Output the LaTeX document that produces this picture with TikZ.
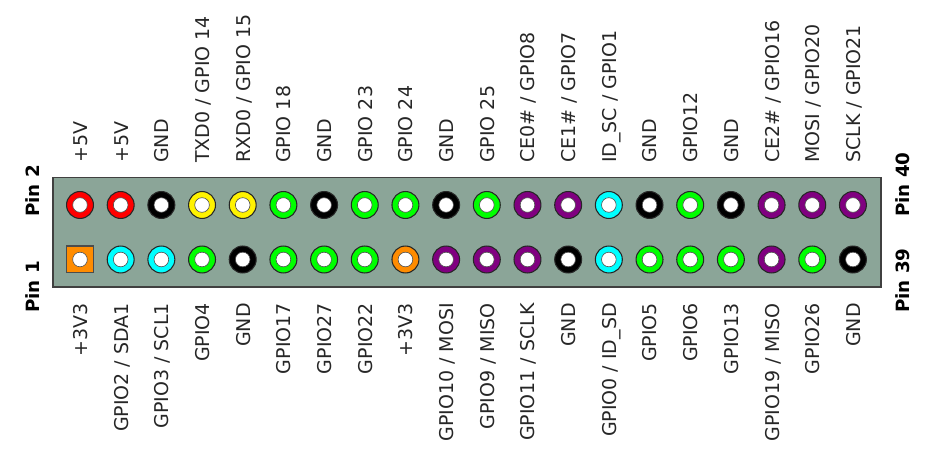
\documentclass[tikz,border=0pt]{standalone}
\usepackage{fontspec}
\setmainfont{DejaVu Sans}
\definecolor{boardgreen}{RGB}{139, 165, 152}
\definecolor{pinpurple}{RGB}{128, 0, 128}
\definecolor{pinorange}{RGB}{255, 140, 0}
\definecolor{pincyan}{RGB}{0, 255, 255}
\tikzset{
  pinring/.style={circle, draw=black!85, line width=0.9pt, minimum size=23pt, inner sep=0pt},
  pinsquare/.style={rectangle, draw=black!70, line width=0.9pt, minimum size=23pt, inner sep=0pt},
  pinhole/.style={circle, draw=black!70, fill=white, line width=0.5pt, minimum size=12.5pt, inner sep=0pt},
  pinlabel/.style={font=\fontsize{16.2pt}{18pt}\selectfont, text=black!85, rotate=90, text height=11.5pt, text depth=0pt, inner sep=0pt},
  endlabel/.style={font=\fontsize{15.6pt}{18pt}\selectfont\bfseries, rotate=90, anchor=west, text height=11pt, text depth=0pt, inner sep=0pt}
}
\begin{document}
\begin{tikzpicture}[x=0.03cm, y=-0.03cm]
  \useasboundingbox (0, 0) rectangle (937, 461);

  % Header board
  \draw[draw=black!75, fill=boardgreen, line width=0.9pt] (53, 177.5) rectangle (881, 287);

  % Top row of pins
  \foreach \col/\txt [count=\i] in {red/+5V, red/+5V, black/GND, yellow/{TXD0 / GPIO 14}, yellow/{RXD0 / GPIO 15},
      green/GPIO 18, black/GND, green/GPIO 23, green/GPIO 24, black/GND, green/GPIO 25,
      pinpurple/{CE0\# / GPIO8}, pinpurple/{CE1\# / GPIO7}, pincyan/{ID\_SC / GPIO1}, black/GND, green/GPIO12,
      black/GND, pinpurple/{CE2\# / GPIO16}, pinpurple/{MOSI / GPIO20}, pinpurple/{SCLK / GPIO21}} {
    \pgfmathsetmacro{\px}{80 + (\i - 1) * 40.68}
    \node[pinring, fill=\col] (top\i) at (\px, 205) {};
    \node[pinhole] (tophole\i) at (top\i) {};
    \node[pinlabel, anchor=west] (toplabel\i) at (\px + 0.7, 163) {\txt};
  }

  % Bottom row of pins
  \foreach \col/\txt [count=\i] in {pinorange/+3V3, pincyan/{GPIO2 / SDA1}, pincyan/{GPIO3 / SCL1}, green/GPIO4, black/GND,
      green/GPIO17, green/GPIO27, green/GPIO22, pinorange/+3V3, pinpurple/{GPIO10 / MOSI},
      pinpurple/{GPIO9 / MISO}, pinpurple/{GPIO11 / SCLK}, black/GND, pincyan/{GPIO0 / ID\_SD}, green/GPIO5,
      green/GPIO6, green/GPIO13, pinpurple/{GPIO19 / MISO}, green/GPIO26, black/GND} {
    \pgfmathsetmacro{\px}{80 + (\i - 1) * 40.68}
    \ifnum\i=1
      \node[pinsquare, fill=\col] (bot\i) at (\px, 259.5) {};
    \else
      \node[pinring, fill=\col] (bot\i) at (\px, 259.5) {};
    \fi
    \node[pinhole] (bothole\i) at (bot\i) {};
    \node[pinlabel, anchor=east] (botlabel\i) at (\px + 0.7, 303) {\txt};
  }

  % Pin numbers
  \node[endlabel] (pintwo) at (33, 217) {Pin 2};
  \node[endlabel] (pinone) at (33, 313) {Pin 1};
  \node[endlabel] (pinforty) at (903, 217) {Pin 40};
  \node[endlabel] (pinthirtynine) at (903, 313) {Pin 39};
\end{tikzpicture}
\end{document}
